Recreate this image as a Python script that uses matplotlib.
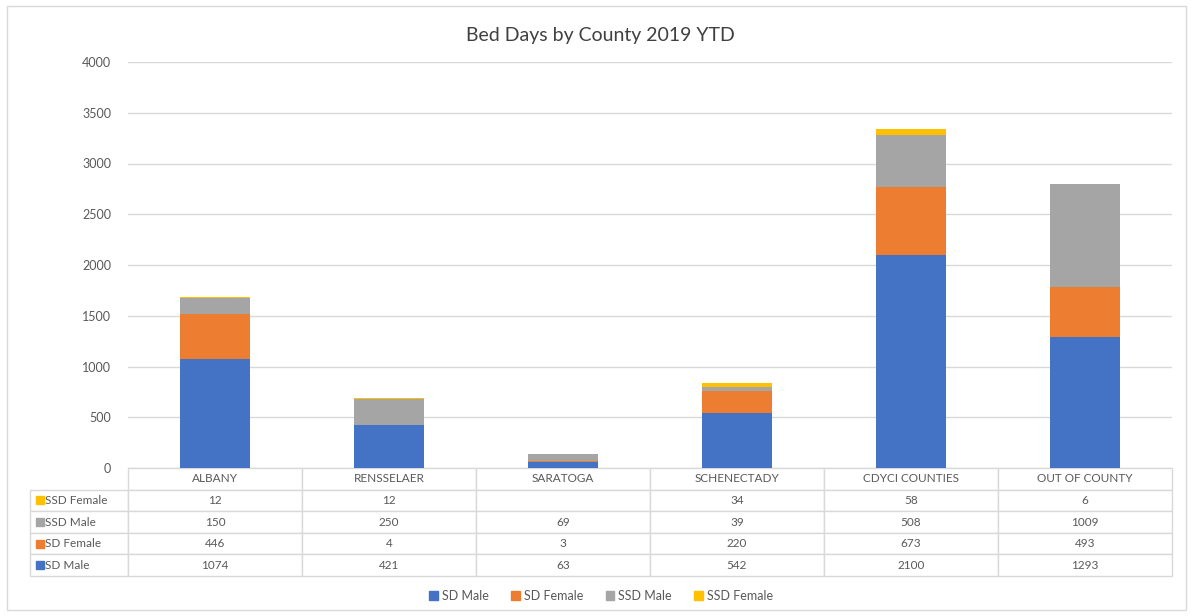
import matplotlib.pyplot as plt
from matplotlib.patches import Patch, Rectangle
import numpy as np

plt.rcParams['font.family'] = ['Lato', 'DejaVu Sans']

counties = ["ALBANY", "RENSSELAER", "SARATOGA", "SCHENECTADY", "CDYCI COUNTIES", "OUT OF COUNTY"]
sd_male = [1074, 421, 63, 542, 2100, 1293]
sd_female = [446, 4, 3, 220, 673, 493]
ssd_male = [150, 250, 69, 39, 508, 1009]
ssd_female = [12, 12, 0, 34, 58, 6]
ssd_female_text = ["12", "12", "", "34", "58", "6"]

series_names = ["SD Male", "SD Female", "SSD Male", "SSD Female"]
colors = ["#4472C4", "#ED7D31", "#A5A5A5", "#FFC000"]
text_col = "#595959"
grid_col = "#D9D9D9"

W, H = 1191, 616
fig = plt.figure(figsize=(W / 100, H / 100), dpi=100)
ax = fig.add_axes([128 / W, 1 - 468 / H, (1172 - 128) / W, (468 - 62) / H])

# outer chart frame
fig.patches.append(Rectangle((7 / W, 6 / H), (1186 - 7) / W, (610 - 6) / H,
                             transform=fig.transFigure, fill=False,
                             edgecolor=grid_col, linewidth=1))

x = np.arange(len(counties))
bottom = np.zeros(len(counties))
for vals, name, c in zip([sd_male, sd_female, ssd_male, ssd_female], series_names, colors):
    ax.bar(x, vals, width=0.4, bottom=bottom, color=c, label=name, zorder=3)
    bottom += np.array(vals)

ax.set_xlim(-0.5, len(counties) - 0.5)
ax.set_ylim(0, 4000)
ax.set_yticks(np.arange(0, 4001, 500))
ax.yaxis.grid(True, color=grid_col, linewidth=1, zorder=0)
ax.set_xticks([])
for s in ax.spines.values():
    s.set_visible(False)
ax.tick_params(axis='y', length=0, pad=12, labelsize=9, labelcolor=text_col)

fig.text(600 / W, 1 - 36 / H, "Bed Days by County 2019 YTD", fontsize=14,
         color="#404040", ha='center', va='center')

# data table below the plot
cell_text = [[""] + counties,
             [""] + ssd_female_text,
             [""] + [str(v) for v in ssd_male],
             [""] + [str(v) for v in sd_female],
             [""] + [str(v) for v in sd_male]]
tbl_x0 = (30 - 128) / 1044
tbl_h = (576 - 468) / 406
tbl = ax.table(cellText=cell_text, colWidths=[98] + [174] * 6, cellLoc='center',
               bbox=[tbl_x0, -tbl_h, 1 - tbl_x0, tbl_h])
tbl.auto_set_font_size(False)
for (r, c), cell in tbl.get_celld().items():
    cell.set_edgecolor(grid_col)
    cell.set_linewidth(1)
    cell.get_text().set_fontsize(8.5)
    cell.get_text().set_color(text_col)
tbl[0, 0].visible_edges = ''

row_labels = ["SSD Female", "SSD Male", "SD Female", "SD Male"]
row_colors = [colors[3], colors[2], colors[1], colors[0]]
row_h = tbl_h / 5
for i, (lab, c) in enumerate(zip(row_labels, row_colors)):
    yc = -row_h * (i + 1.5)
    ax.add_patch(Rectangle(((36 - 128) / 1044, yc - 4 / 406), 8 / 1044, 8 / 406,
                           transform=ax.transAxes, color=c, clip_on=False))
    ax.text((45 - 128) / 1044, yc, lab, transform=ax.transAxes, fontsize=8.5,
            color=text_col, va='center', ha='left')

handles = [Patch(color=c, label=n) for c, n in zip(colors, series_names)]
fig.legend(handles=handles, loc='center', bbox_to_anchor=(601 / W, 1 - 596 / H),
           ncol=4, frameon=False, fontsize=9, handlelength=0.7, handleheight=0.7,
           handletextpad=0.3, columnspacing=1.8, labelcolor=text_col)

fig.savefig("out.png", dpi=100)
